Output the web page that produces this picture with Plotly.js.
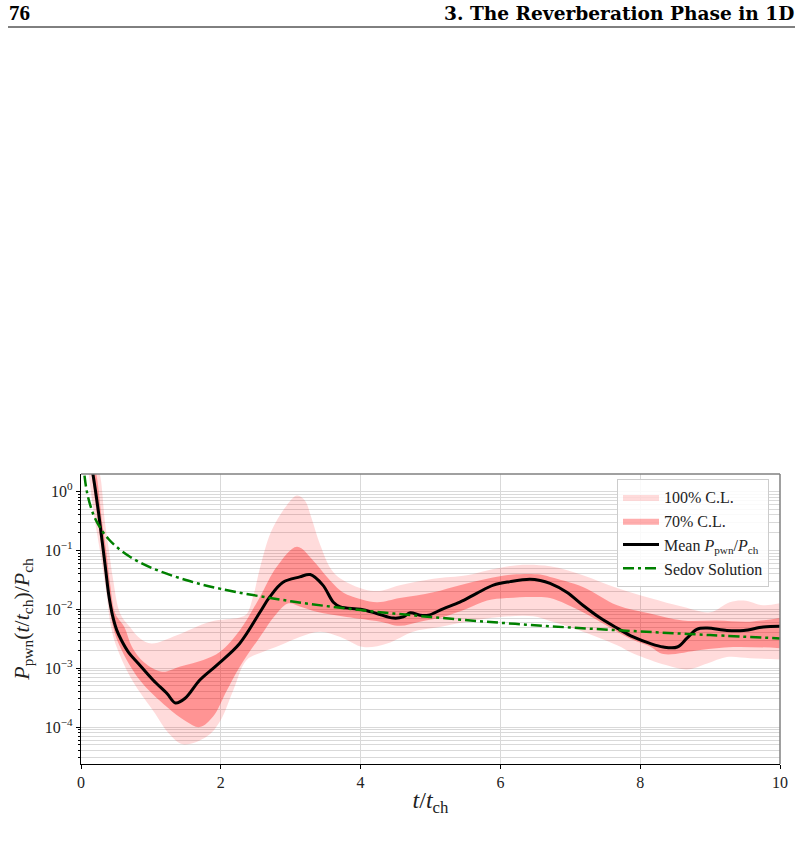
<!DOCTYPE html>
<html><head><meta charset="utf-8">
<script src="https://cdn.plot.ly/plotly-3.0.1.min.js"></script>
<style>html,body{margin:0;padding:0;background:#fff}#chart{width:802px;height:843px}</style>
</head><body><div id="chart"></div>
<script>
// Mean P_pwn / P_ch
const meanT = [0.08,0.17,0.25,0.30,0.35,0.40,0.45,0.51,0.58,0.68,0.82,1.03,1.23,1.35,1.49,1.70,1.94,2.27,2.56,2.70,2.89,3.13,3.28,3.46,3.61,3.71,4.0,4.23,4.47,4.61,4.71,4.85,4.97,5.18,5.42,5.66,5.9,6.14,6.42,6.57,6.71,6.95,7.18,7.43,7.67,7.90,8.14,8.33,8.53,8.67,8.81,8.96,9.24,9.48,9.76,10];
const meanP = [7.9,2.0,0.447,0.151,0.0501,0.0166,0.00794,0.00447,0.00295,0.00186,0.0012,6.3e-4,3.72e-4,2.57e-4,3.09e-4,6.3e-4,1.12e-3,2.63e-3,8.9e-3,0.0162,0.0288,0.0355,0.0389,0.0257,0.0132,0.011,0.01,0.0085,0.00708,0.00741,0.0087,0.00794,0.00794,0.0102,0.0132,0.0186,0.0257,0.0295,0.0324,0.0309,0.0275,0.0195,0.0117,0.00708,0.00479,0.00339,0.00263,0.00229,0.00229,0.00324,0.00457,0.00479,0.00437,0.00437,0.0050,0.00513];

// 100% confidence band
const up100T = [0.12,0.27,0.34,0.40,0.46,0.56,0.70,0.85,1.01,1.37,1.85,2.27,2.37,2.47,2.56,2.72,2.94,3.09,3.20,3.30,3.42,3.61,3.89,4.23,4.56,5.04,5.52,5.81,6.24,6.71,7.18,7.67,8.14,8.61,9.0,9.28,9.48,9.76,10];
const up100P = [7.9,2.0,0.316,0.1,0.0316,0.0085,0.005,0.00316,0.00263,0.00363,0.00617,0.00724,0.0083,0.0178,0.05,0.209,0.575,0.851,0.708,0.347,0.126,0.0427,0.0257,0.0204,0.0257,0.0331,0.038,0.0457,0.0562,0.0537,0.038,0.0229,0.0155,0.011,0.0089,0.0132,0.0141,0.0117,0.0126];
const lo100T = [0.06,0.11,0.20,0.27,0.36,0.43,0.51,0.73,1.06,1.25,1.46,1.80,1.99,2.18,2.37,2.61,2.85,3.13,3.42,3.71,4.04,4.38,4.75,5.04,5.52,6.0,6.47,6.71,7.18,7.67,7.90,8.38,8.67,8.96,9.24,9.57,10];
const lo100P = [7.9,2.0,0.316,0.1,0.02,0.005,0.00229,6.3e-4,1.7e-4,7.9e-5,5.1e-5,6.9e-5,1.26e-4,4.27e-4,1.38e-3,1.9e-3,2.45e-3,3.39e-3,4.17e-3,3.39e-3,2.29e-3,2.63e-3,4.17e-3,4.79e-3,6.17e-3,7.41e-3,7.59e-3,6.31e-3,4.17e-3,2.45e-3,1.78e-3,1.12e-3,9.5e-4,1.2e-3,1.55e-3,1.48e-3,1.41e-3];

// 70% confidence band
const up70T = [0.10,0.22,0.30,0.36,0.42,0.49,0.62,0.73,0.90,1.16,1.42,1.75,1.99,2.27,2.56,2.80,3.09,3.32,3.52,3.71,3.85,4.23,4.56,5.04,5.42,5.81,6.18,6.57,6.71,7.18,7.67,8.14,8.61,9.1,9.57,10];
const up70P = [7.9,2.0,0.316,0.1,0.0251,0.0085,0.005,0.00229,0.00126,8.7e-4,1.07e-3,1.38e-3,1.9e-3,4.37e-3,0.0162,0.0525,0.115,0.0676,0.0355,0.0209,0.017,0.0132,0.0155,0.0195,0.0257,0.0331,0.0389,0.0389,0.0355,0.024,0.0117,0.0085,0.00646,0.00646,0.00617,0.00708];
const lo70T = [0.07,0.15,0.24,0.30,0.38,0.46,0.56,0.84,1.23,1.50,1.70,1.89,2.09,2.27,2.56,2.80,2.97,3.13,3.37,3.80,4.28,4.56,4.85,5.18,5.52,5.81,6.09,6.47,6.71,7.18,7.67,7.90,8.14,8.33,8.86,9.33,10];
const lo70P = [7.9,2.0,0.316,0.1,0.02,0.005,0.00229,6.3e-4,2.19e-4,1.26e-4,1.0e-4,1.51e-4,4.27e-4,1.05e-3,3.39e-3,8.5e-3,0.0126,0.0112,9.1e-3,7.41e-3,6.17e-3,5.25e-3,6.17e-3,7.41e-3,0.0102,0.0141,0.0155,0.0162,0.0155,8.9e-3,4.17e-3,3.0e-3,2.34e-3,1.74e-3,2.04e-3,2.29e-3,2.19e-3];

// Sedov solution
const sedovT = [0.05,0.07,0.1,0.15,0.2,0.3,0.4,0.5,0.7,1,1.5,2,3,4,5,6,7,8,9,10];
const sedovP = [1.86,1.24,0.81,0.50,0.35,0.216,0.153,0.117,0.078,0.051,0.0314,0.0222,0.0137,0.0097,0.0074,0.0059,0.0049,0.0042,0.00365,0.0032];

// Axis ticks
const xTicks = [0,2,4,6,8,10];
const yTickVals = [1e-4,1e-3,1e-2,1e-1,1];
const yTickText = ['10<sup>−4</sup>','10<sup>−3</sup>','10<sup>−2</sup>','10<sup>−1</sup>','10<sup>0</sup>'];
const legendNames = ['100% C.L.','70% C.L.','Mean <i>P</i><sub>pwn</sub>/<i>P</i><sub>ch</sub>','Sedov Solution'];

const yMinor = [];
for (let e = -5; e <= 0; e++) for (let m = 2; m <= 9; m++) { const v = m*Math.pow(10,e); if (v > 2.4e-5 && v < 1.95) yMinor.push(v); }

const SERIF = '"Liberation Serif", "DejaVu Serif", serif';
const HEAD = '"DejaVu Serif", "Liberation Serif", serif';
const c100 = 'rgba(255,0,0,0.14)';
const c70 = 'rgba(255,0,0,0.32)';

const traces = [
  {x: up100T, y: up100P, mode:'lines', line:{width:0, shape:'spline', smoothing:1}, showlegend:false, hoverinfo:'skip', legendgroup:'a'},
  {x: lo100T, y: lo100P, mode:'lines', fill:'tonexty', fillcolor:c100, line:{width:0, shape:'spline', smoothing:1}, name:legendNames[0], legendgroup:'a'},
  {x: up70T, y: up70P, mode:'lines', line:{width:0, shape:'spline', smoothing:1}, showlegend:false, hoverinfo:'skip', legendgroup:'b'},
  {x: lo70T, y: lo70P, mode:'lines', fill:'tonexty', fillcolor:c70, line:{width:0, shape:'spline', smoothing:1}, name:legendNames[1], legendgroup:'b'},
  {x: meanT, y: meanP, mode:'lines', line:{color:'#000', width:3, shape:'spline', smoothing:1}, name:legendNames[2]},
  {x: sedovT, y: sedovP, mode:'lines', line:{color:'#008000', width:2.5, dash:'11px,4px,3px,4px', shape:'spline', smoothing:1}, name:legendNames[3]}
];

const W = 802, H = 843, L = 81, R = 22, T = 474, B = 79;
const pw = W - L - R, ph = H - T - B;
const px = v => (v - L) / pw;
const py = v => (H - B - v) / ph;

const layout = {
  width: W, height: H,
  margin: {l:L, r:R, t:T, b:B, pad:0},
  paper_bgcolor:'#fff', plot_bgcolor:'#fff',
  font: {family: SERIF, color:'#222', size:16},
  showlegend: true,
  legend: {x: px(617), y: py(479), xanchor:'left', yanchor:'top', bgcolor:'rgba(255,255,255,0.85)', bordercolor:'#cccccc', borderwidth:1, font:{family:SERIF, size:16, color:'#222'}, itemwidth:36, tracegroupgap:0},
  xaxis: {
    range:[0,10], tickvals:xTicks, ticktext:xTicks.map(String),
    showline:true, linecolor:'#000', linewidth:1.2, ticks:'outside', ticklen:4, tickcolor:'#000',
    showgrid:true, gridcolor:'#d9d9d9', gridwidth:1, zeroline:false,
    tickfont:{family:SERIF, size:16, color:'#222'},
    title:{text:'<i>t</i>/<i>t</i><sub>ch</sub>', font:{family:SERIF, size:24, color:'#222'}, standoff:0}
  },
  yaxis: {
    type:'log', range:[-4.627, 0.297], tickmode:'array', tickvals:yTickVals, ticktext:yTickText,
    showline:true, linecolor:'#000', linewidth:1.2, ticks:'outside', ticklen:4, tickcolor:'#000',
    showgrid:true, gridcolor:'#d9d9d9', gridwidth:1, zeroline:false,
    tickfont:{family:SERIF, size:16, color:'#222'},
    minor:{tickmode:'array', tickvals:yMinor, ticks:'outside', ticklen:2, tickcolor:'#000', showgrid:true, gridcolor:'#d9d9d9', gridwidth:1},
    title:{text:'<i>P</i><sub>pwn</sub>(<i>t</i>/<i>t</i><sub>ch</sub>)/<i>P</i><sub>ch</sub>', font:{family:SERIF, size:22, color:'#222'}, standoff:9}
  },
  shapes: [
    {type:'line', xref:'paper', yref:'paper', x0:0, x1:1, y0:1, y1:1, line:{color:'#808080', width:1.5}},
    {type:'line', xref:'paper', yref:'paper', x0:1, x1:1, y0:0, y1:1, line:{color:'#808080', width:1.5}},
    {type:'line', xref:'paper', yref:'paper', x0:px(8), x1:px(795), y0:py(27), y1:py(27), line:{color:'#000', width:1}}
  ],
  annotations: [
    {text:'<b>76</b>', xref:'paper', yref:'paper', x:px(7), y:py(13), xanchor:'left', yanchor:'middle', showarrow:false, font:{family:SERIF, size:21, color:'#000'}},
    {text:'<b>3. The Reverberation Phase in 1D</b>', xref:'paper', yref:'paper', x:px(796), y:py(13), xanchor:'right', yanchor:'middle', showarrow:false, font:{family:HEAD, size:18.6, color:'#000'}}
  ]
};

Plotly.newPlot('chart', traces, layout, {displayModeBar:false, staticPlot:true});
</script>
</body></html>
